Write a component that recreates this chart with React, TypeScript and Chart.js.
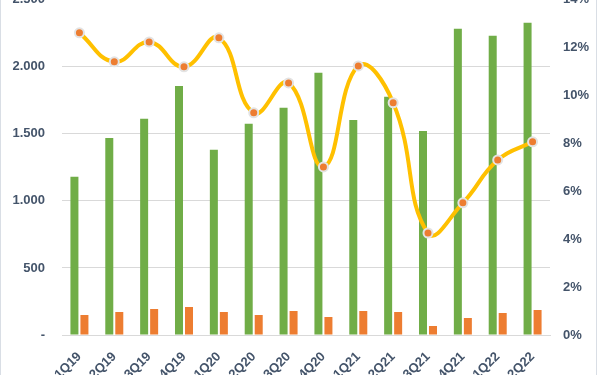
import React, { useEffect, useRef } from "react";
import { Chart, registerables } from "chart.js";

Chart.register(...registerables);

const categories = ["1Q19", "2Q19", "3Q19", "4Q19", "1Q20", "2Q20", "3Q20", "4Q20", "1Q21", "2Q21", "3Q21", "4Q21", "1Q22", "2Q22"];
const greenValues = [1180, 1470, 1612, 1858, 1381, 1575, 1694, 1955, 1604, 1776, 1522, 2284, 2231, 2328];
const orangeValues = [149, 172, 194, 209, 172, 149, 179, 134, 179, 172, 67, 127, 164, 187];
const marginPct = [12.62, 11.41, 12.24, 11.2, 12.41, 9.28, 10.53, 7.02, 11.24, 9.7, 4.26, 5.52, 7.31, 8.07];

const TEXT = "#44546A";
const FONT = { family: "'Liberation Sans', Arial, sans-serif", size: 13, weight: "bold" as const };

export default function App() {
  const ref = useRef<HTMLCanvasElement>(null);
  useEffect(() => {
    if (!ref.current) return;
    const chart = new Chart(ref.current, {
      data: {
        labels: categories,
        datasets: [
          {
            type: "line",
            data: marginPct,
            yAxisID: "y1",
            borderColor: "#FFC000",
            borderWidth: 4,
            tension: 0.45,
            pointRadius: 4.5,
            pointBackgroundColor: "#ED7D31",
            pointBorderColor: "#E3E3E3",
            pointBorderWidth: 2,
            order: 0,
          },
          {
            type: "bar",
            data: greenValues,
            yAxisID: "y",
            backgroundColor: "#70AD47",
            categoryPercentage: 0.574,
            barPercentage: 0.8,
            order: 1,
          },
          {
            type: "bar",
            data: orangeValues,
            yAxisID: "y",
            backgroundColor: "#ED7D31",
            categoryPercentage: 0.574,
            barPercentage: 0.8,
            order: 1,
          },
        ],
      },
      options: {
        animation: false,
        responsive: false,
        maintainAspectRatio: false,
        layout: { padding: { top: 16, left: 0, right: 0, bottom: 0 } },
        plugins: { legend: { display: false }, tooltip: { enabled: false } },
        scales: {
          x: {
            grid: { display: false },
            border: { display: true, color: "#D9D9D9" },
            ticks: { color: TEXT, font: FONT, minRotation: 45, maxRotation: 45, padding: 6, autoSkip: false },
            afterFit: (s: any) => { s.height = 70; },
          },
          y: {
            position: "left",
            min: 0,
            max: 2500,
            grid: { color: "#D9D9D9", drawTicks: false },
            border: { display: false },
            ticks: {
              stepSize: 500,
              color: TEXT,
              font: FONT,
              padding: 17,
              callback: (v: any) => (v === 0 ? "-" : Number(v).toLocaleString("de-DE")),
            },
            afterFit: (s: any) => { s.width = 62; },
          },
          y1: {
            position: "right",
            min: 0,
            max: 14,
            grid: { display: false, drawTicks: false },
            border: { display: false },
            ticks: {
              stepSize: 2,
              color: TEXT,
              font: FONT,
              padding: 13,
              callback: (v: any) => v + "%",
            },
            afterFit: (s: any) => { s.width = 49; },
          },
        },
      },
    });
    return () => chart.destroy();
  }, []);

  return (
    <div style={{ position: "fixed", left: 0, top: 0, width: 599, height: 375, overflow: "hidden", background: "#fff" }}>
      <canvas ref={ref} width={599} height={430} style={{ position: "absolute", left: 0, top: -25, width: 599, height: 430 }} />
      <div style={{ position: "absolute", left: 0, top: 0, width: 1, height: 375, background: "#D9DEE5" }} />
      <div style={{ position: "absolute", left: 596, top: 0, width: 1, height: 375, background: "#D9DEE5" }} />
    </div>
  );
}
